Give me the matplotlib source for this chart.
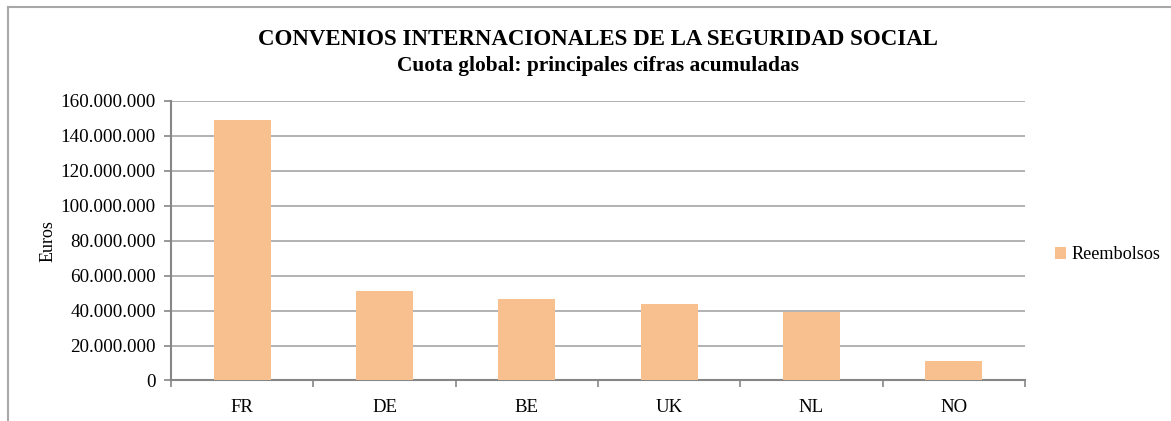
import numpy as np
import matplotlib.pyplot as plt
from matplotlib.lines import Line2D
from matplotlib.patches import Patch

paises = ["FR", "DE", "BE", "UK", "NL", "NO"]
reembolsos = [149100000, 51200000, 46500000, 44000000, 39200000, 10900000]
yticks = np.arange(0, 160000001, 20000000)
ytick_labels = ["{:,}".format(v).replace(",", ".") for v in yticks]

plt.rcParams['font.family'] = ['Liberation Serif', 'DejaVu Serif']

fig = plt.figure(figsize=(11.71, 4.21), dpi=100)
ax = fig.add_axes([0.146, 0.0962, 0.7293, 0.664])

x = np.arange(len(paises))
ax.bar(x, reembolsos, width=0.4, color="#F9C08F", zorder=3)

ax.set_xlim(-0.5, len(paises) - 0.5)
ax.set_ylim(0, 160000000)
ax.set_yticks(yticks)
ax.set_yticklabels(ytick_labels, fontsize=13.7)
ax.set_xticks(x)
ax.set_xticklabels(paises, fontsize=13.5)
ax.tick_params(axis='x', length=0, pad=13)
ax.set_xticks(np.arange(-0.5, len(paises)), minor=True)
ax.tick_params(axis='x', which='minor', length=5, color="#868686", width=1.2)
ax.tick_params(axis='y', length=5, color="#868686", width=1.2, pad=6)

ax.grid(axis='y', color="#a6a6a6", linewidth=1.2, zorder=0)
for s in ['top', 'right']:
    ax.spines[s].set_visible(False)
for s in ['left', 'bottom']:
    ax.spines[s].set_color("#868686")
    ax.spines[s].set_linewidth(1.5)

ax.set_ylabel("Euros", fontsize=13, labelpad=3)

fig.text(0.5105, 0.905, "CONVENIOS INTERNACIONALES DE LA SEGURIDAD SOCIAL",
         ha='center', va='center', fontsize=16.5, fontweight='bold')
fig.text(0.5105, 0.843, "Cuota global: principales cifras acumuladas",
         ha='center', va='center', fontsize=15.4, fontweight='bold')

handles = [Patch(facecolor="#F9C08F", label="Reembolsos")]
fig.legend(handles=handles, loc='center left', bbox_to_anchor=(0.895, 0.395),
           frameon=False, fontsize=13.1, handlelength=0.6, handleheight=0.6,
           handletextpad=0.3, borderaxespad=0)

# marco exterior del grafico
fig.add_artist(Line2D([8 / 1171, 8 / 1171], [1 - 7 / 421, 0], color="#a8a8a8", linewidth=1.5))
fig.add_artist(Line2D([8 / 1171, 1], [1 - 7 / 421, 1 - 7 / 421], color="#a8a8a8", linewidth=1.5))

fig.savefig("out.png", dpi=100)
